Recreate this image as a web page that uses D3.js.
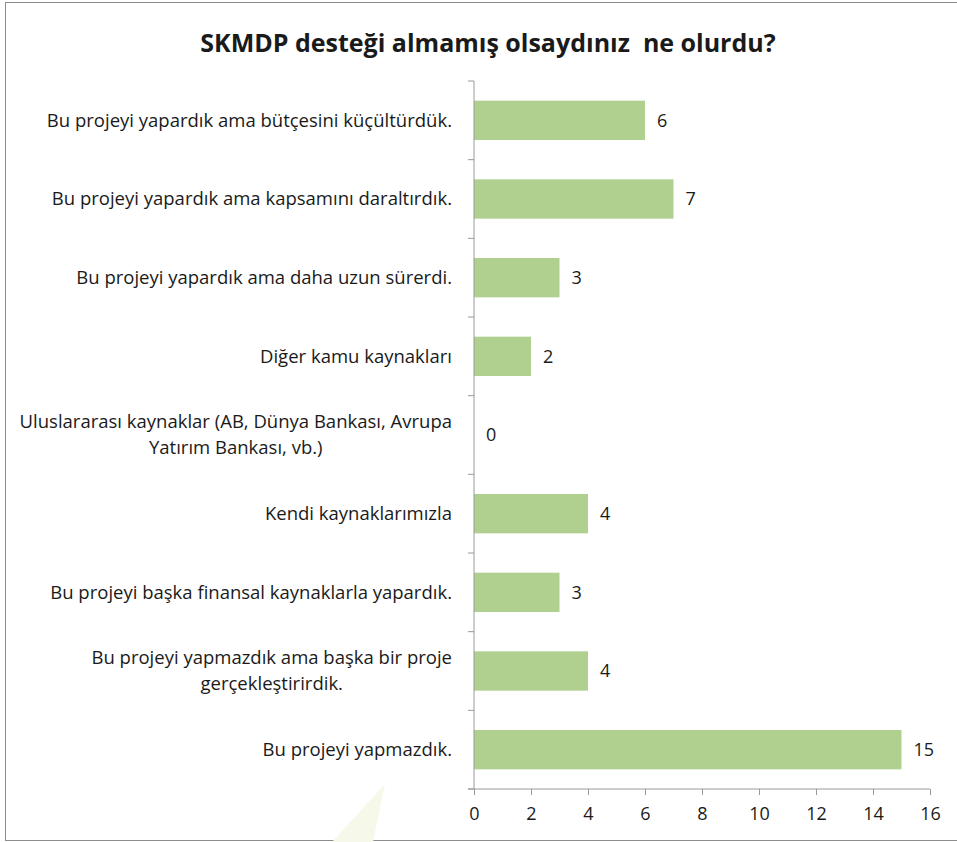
<!DOCTYPE html>
<html>
<head>
  <meta charset="utf-8">
  <title>SKMDP</title>
  <style>
    body { margin: 0; background: #fff; }
    svg text { font-family: "Open Sans", "Noto Sans", sans-serif; fill: #1a1a1a; }
  </style>
</head>
<body>
  <svg width="957" height="842"></svg>
  <script src="https://cdn.jsdelivr.net/npm/d3@7"></script>
  <script>
  // veriler
  var categories = [
    ["Bu projeyi yapardık ama bütçesini küçültürdük."],
    ["Bu projeyi yapardık ama kapsamını daraltırdık."],
    ["Bu projeyi yapardık ama daha uzun sürerdi."],
    ["Diğer kamu kaynakları"],
    ["Uluslararası kaynaklar (AB, Dünya Bankası, Avrupa", "Yatırım Bankası, vb.)"],
    ["Kendi kaynaklarımızla"],
    ["Bu projeyi başka finansal kaynaklarla yapardık."],
    ["Bu projeyi yapmazdık ama başka bir proje", "gerçekleştirirdik."],
    ["Bu projeyi yapmazdık."]
  ];
  var values = [6, 7, 3, 2, 0, 4, 3, 4, 15];
  var xTicks = [0, 2, 4, 6, 8, 10, 12, 14, 16];
  var title = "SKMDP desteği almamış olsaydınız  ne olurdu?";

  var svg = d3.select("svg");
  var pLeft = 474, pRight = 930, pTop = 81, pBottom = 789;

  // çerçeve
  svg.append("rect")
    .attr("x", 5.5).attr("y", 2.5)
    .attr("width", 960).attr("height", 838)
    .attr("fill", "none").attr("stroke", "#8c8c8c");

  // filigran
  svg.append("polygon")
    .attr("points", "385,784 332,842 373,842")
    .attr("fill", "#f6f9ea");

  svg.append("text")
    .attr("x", 488).attr("y", 52)
    .attr("text-anchor", "middle")
    .style("font-size", "25px").style("font-weight", "bold")
    .style("white-space", "pre")
    .text(title);

  var x = d3.scaleLinear().domain([0, 16]).range([pLeft, pRight]);
  var y = d3.scaleBand().domain(d3.range(categories.length)).range([pTop, pBottom])
    .paddingInner(0.5).paddingOuter(0.25);

  // çubuklar
  svg.selectAll("rect.bar")
    .data(values)
    .enter().append("rect")
    .attr("class", "bar")
    .attr("x", x(0))
    .attr("y", function(d, i) { return y(i); })
    .attr("width", function(d) { return x(d) - x(0); })
    .attr("height", y.bandwidth())
    .attr("fill", "#b0d08f");

  // değer etiketleri
  svg.selectAll("text.val")
    .data(values)
    .enter().append("text")
    .attr("class", "val")
    .attr("x", function(d) { return x(d) + 12; })
    .attr("y", function(d, i) { return y(i) + y.bandwidth() / 2; })
    .attr("dy", "0.35em")
    .style("font-size", "18px")
    .text(function(d) { return d; });

  // x ekseni
  var xAxis = svg.append("g")
    .attr("transform", "translate(0," + pBottom + ")")
    .call(d3.axisBottom(x).tickValues(xTicks).tickSize(6).tickPadding(12));
  xAxis.select(".domain").attr("d", "M" + (pLeft - 6) + ",0H" + pRight).attr("stroke", "#9a9a9a");
  xAxis.selectAll(".tick line").attr("stroke", "#9a9a9a");
  xAxis.selectAll(".tick text").style("font-size", "18px").attr("fill", "#1a1a1a")
    .style("font-family", "'Open Sans', sans-serif");

  // y ekseni
  var step = y.step();
  var gy = svg.append("g");
  gy.append("line")
    .attr("x1", pLeft).attr("x2", pLeft).attr("y1", pTop).attr("y2", pBottom)
    .attr("stroke", "#9a9a9a");
  gy.selectAll("line.tk")
    .data(d3.range(categories.length + 1))
    .enter().append("line")
    .attr("class", "tk")
    .attr("x1", pLeft - 6).attr("x2", pLeft)
    .attr("y1", function(i) { return pTop + i * step; })
    .attr("y2", function(i) { return pTop + i * step; })
    .attr("stroke", "#9a9a9a");

  // kategori etiketleri
  var lh = 26;
  categories.forEach(function(lines, i) {
    var cy = y(i) + y.bandwidth() / 2;
    var g = svg.append("text").style("font-size", "18.5px");
    var spans = lines.map(function(l, j) {
      return g.append("tspan")
        .attr("y", cy + (j - (lines.length - 1) / 2) * lh)
        .attr("dy", "0.35em")
        .text(l);
    });
    var w = d3.max(spans, function(s) { return s.node().getComputedTextLength(); });
    var cx = 452 - w / 2;
    spans.forEach(function(s) { s.attr("x", cx).attr("text-anchor", "middle"); });
  });
  </script>
</body>
</html>
